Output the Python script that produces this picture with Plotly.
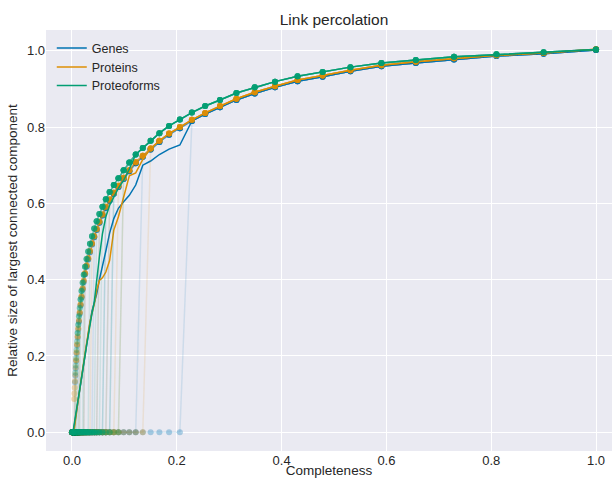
import plotly.graph_objects as go

# Completeness values (x) at which each run was evaluated
X = [1.0, 0.9, 0.81, 0.729, 0.6561, 0.5905, 0.5314, 0.4783, 0.4305, 0.3874,
     0.3487, 0.3138, 0.2824, 0.2542, 0.2288, 0.2059, 0.1853, 0.1668, 0.1501, 0.1351,
     0.1216, 0.1094, 0.0985, 0.0886, 0.0798, 0.0718, 0.0646, 0.0581, 0.0523, 0.0471,
     0.0424, 0.0382, 0.0343, 0.0309, 0.0278, 0.0250, 0.0225, 0.0203, 0.0182, 0.0164,
     0.0148, 0.0133, 0.0120, 0.0108, 0.0097, 0.0087, 0.0079, 0.0071, 0.0064, 0.0057,
     0.0052, 0.0046, 0.0042, 0.0038, 0.0034, 0.0030, 0.0027, 0.0025, 0.0022, 0.0020,
     0.0018, 0.0]

# Per-run curve (value of a run while it is still connected)
genes_run = [1.002, 0.992, 0.986, 0.977, 0.968, 0.959, 0.946, 0.932, 0.920, 0.904,
             0.888, 0.871, 0.852, 0.834, 0.816, 0.797, 0.780, 0.761, 0.741, 0.722,
             0.705, 0.684, 0.664, 0.643, 0.625, 0.607, 0.588, 0.568, 0.549, 0.530,
             0.511, 0.492, 0.472, 0.453, 0.434, 0.414, 0.394, 0.374, 0.353, 0.332,
             0.311, 0.290, 0.269, 0.248, 0.227, 0.206, 0.186, 0.167, 0.148, 0.131,
             0.114, 0.099, 0.084, 0.071, 0.058, 0.047, 0.036, 0.027, 0.019, 0.012,
             0.007, 0.0]
proteins_run = [1.004, 0.994, 0.988, 0.980, 0.971, 0.962, 0.949, 0.935, 0.923, 0.907,
                0.891, 0.874, 0.855, 0.837, 0.819, 0.800, 0.783, 0.764, 0.744, 0.725,
                0.708, 0.687, 0.667, 0.646, 0.628, 0.610, 0.591, 0.571, 0.552, 0.533,
                0.514, 0.495, 0.475, 0.456, 0.437, 0.417, 0.397, 0.377, 0.356, 0.335,
                0.314, 0.293, 0.272, 0.251, 0.230, 0.209, 0.189, 0.170, 0.151, 0.134,
                0.117, 0.102, 0.087, 0.074, 0.061, 0.050, 0.039, 0.030, 0.022, 0.015,
                0.010, 0.0]
proteoforms_run = [1.003, 0.996, 0.991, 0.984, 0.976, 0.968, 0.957, 0.944, 0.933, 0.919,
                   0.904, 0.889, 0.871, 0.855, 0.838, 0.820, 0.803, 0.784, 0.764, 0.745,
                   0.728, 0.707, 0.687, 0.666, 0.648, 0.630, 0.611, 0.591, 0.572, 0.553,
                   0.534, 0.514, 0.494, 0.474, 0.454, 0.434, 0.413, 0.392, 0.370, 0.348,
                   0.326, 0.304, 0.282, 0.260, 0.238, 0.216, 0.195, 0.175, 0.156, 0.138,
                   0.121, 0.105, 0.090, 0.076, 0.063, 0.051, 0.040, 0.031, 0.023, 0.016,
                   0.010, 0.0]

# Smallest completeness at which each run is still non-zero
genes_cut = [0.2288, 0.1351, 0.0798, 0.0718, 0.0646, 0.0523, 0.0424, 0.0250, 0.0133, 0.0057]
proteins_cut = [0.1501, 0.0985, 0.0886, 0.0718, 0.0523, 0.0382, 0.0250, 0.0148, 0.0079, 0.0042]
proteoforms_cut = [0.0985, 0.0798, 0.0646, 0.0581, 0.0471, 0.0343, 0.0225, 0.0164, 0.0108, 0.0064]

# Average curves (thin opaque lines)
genes_mean = [1.002, 0.992, 0.986, 0.977, 0.968, 0.959, 0.946, 0.932, 0.920, 0.904,
              0.888, 0.871, 0.852, 0.834, 0.816, 0.753, 0.742, 0.728, 0.711, 0.700,
              0.648, 0.621, 0.604, 0.587, 0.560, 0.522, 0.475, 0.437, 0.400, 0.362,
              0.336, 0.318, 0.287, 0.255, 0.228, 0.202, 0.180, 0.160, 0.141, 0.125,
              0.111, 0.097, 0.085, 0.075, 0.065, 0.056, 0.048, 0.041, 0.035, 0.029,
              0.024, 0.019, 0.015, 0.012, 0.008, 0.005, 0.002, 0.0, 0.0, 0.0,
              0.0, 0.0]
proteins_mean = [1.004, 0.994, 0.988, 0.980, 0.971, 0.962, 0.949, 0.935, 0.923, 0.907,
                 0.891, 0.874, 0.855, 0.837, 0.819, 0.800, 0.783, 0.764, 0.744, 0.715,
                 0.680, 0.672, 0.612, 0.565, 0.530, 0.450, 0.420, 0.405, 0.398, 0.372,
                 0.335, 0.315, 0.290, 0.260, 0.235, 0.210, 0.185, 0.165, 0.145, 0.130,
                 0.115, 0.100, 0.088, 0.076, 0.064, 0.052, 0.042, 0.032, 0.022, 0.012,
                 0.006, 0.002, 0.0, 0.0, 0.0, 0.0, 0.0, 0.0, 0.0, 0.0,
                 0.0, 0.0]
proteoforms_mean = [1.003, 0.996, 0.991, 0.984, 0.976, 0.968, 0.957, 0.944, 0.933, 0.919,
                    0.904, 0.889, 0.871, 0.855, 0.838, 0.820, 0.803, 0.784, 0.764, 0.745,
                    0.728, 0.690, 0.660, 0.640, 0.618, 0.595, 0.565, 0.520, 0.460, 0.390,
                    0.340, 0.312, 0.283, 0.253, 0.227, 0.202, 0.180, 0.160, 0.141, 0.125,
                    0.111, 0.097, 0.085, 0.075, 0.065, 0.056, 0.048, 0.041, 0.035, 0.029,
                    0.024, 0.019, 0.015, 0.012, 0.008, 0.005, 0.002, 0.0, 0.0, 0.0,
                    0.0, 0.0]

names = ["Genes", "Proteins", "Proteoforms"]
colors = [(1, 115, 178), (222, 143, 5), (2, 158, 115)]
runs = [genes_run, proteins_run, proteoforms_run]
cuts = [genes_cut, proteins_cut, proteoforms_cut]
means = [genes_mean, proteins_mean, proteoforms_mean]

X_TICKS = [0.0, 0.2, 0.4, 0.6, 0.8, 1.0]
Y_TICKS = [0.0, 0.2, 0.4, 0.6, 0.8, 1.0]
TICK_TEXT = ["0.0", "0.2", "0.4", "0.6", "0.8", "1.0"]


def rgba(c, a):
    return "rgba(%d,%d,%d,%.3f)" % (c[0], c[1], c[2], a)


legend_ids = ["legend", "legend2", "legend3"]
fig = go.Figure()
for name, col, base, cl, mean, lid in zip(names, colors, runs, cuts, means, legend_ids):
    for c in cl:
        yr = [b if x >= c else 0.0 for x, b in zip(X, base)]
        fig.add_trace(go.Scatter(
            x=X, y=yr, mode="lines+markers", showlegend=False, hoverinfo="skip",
            line=dict(color=rgba(col, 0.12), width=1.5),
            marker=dict(color=rgba(col, 0.3), size=6, line=dict(width=0)),
        ))
    fig.add_trace(go.Scatter(
        x=X, y=mean, mode="lines", name=name, legend=lid,
        line=dict(color=rgba(col, 1.0), width=1.5),
    ))

FONT = "Liberation Sans, Arial, DejaVu Sans, sans-serif"
legend_style = dict(xanchor="left", yanchor="top", bgcolor="rgba(0,0,0,0)",
                    font=dict(size=12.5, color="#262626"), itemwidth=30)
fig.update_layout(
    width=612, height=478,
    margin=dict(l=46, r=0, t=30, b=27),
    paper_bgcolor="white", plot_bgcolor="#EAEAF2",
    font=dict(family=FONT, color="#262626", size=13),
    title=dict(text="Link percolation", x=334 / 612, xref="container", xanchor="center",
               y=1 - 19.5 / 478, yref="container", yanchor="middle",
               font=dict(size=15.5, color="#262626")),
    xaxis=dict(range=[-0.0496, 1.0305], tickvals=X_TICKS, ticktext=TICK_TEXT,
               showgrid=True, gridcolor="white", gridwidth=1, zeroline=False,
               showline=False, ticks="", tickfont=dict(size=13), automargin=False,
               title=dict(text="Completeness", font=dict(size=13.5), standoff=6)),
    yaxis=dict(range=[-0.0490, 1.0543], tickvals=Y_TICKS, ticktext=TICK_TEXT,
               showgrid=True, gridcolor="white", gridwidth=1, zeroline=False,
               showline=False, ticks="", tickfont=dict(size=13), automargin=False,
               title=dict(text="Relative size of largest connected component",
                          font=dict(size=13.5), standoff=6)),
    legend=dict(x=0.0102, y=0.9922, **legend_style),
    legend2=dict(x=0.0102, y=0.947, **legend_style),
    legend3=dict(x=0.0102, y=0.9031, **legend_style),
    showlegend=True,
)

fig.write_html("out.html")
